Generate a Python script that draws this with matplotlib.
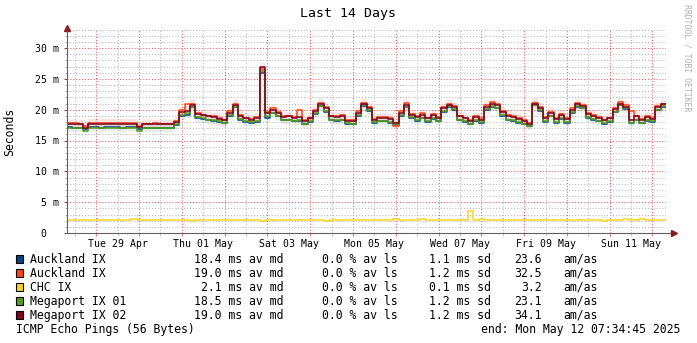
import datetime as dt
import matplotlib
matplotlib.use('Agg')
import matplotlib.pyplot as plt
import matplotlib.dates as mdates
from matplotlib.patches import Rectangle
from matplotlib.ticker import MultipleLocator, FuncFormatter

MONO = 'DejaVu Sans Mono'

end_time = dt.datetime(2025, 5, 12, 7, 34, 45)
start_time = end_time - dt.timedelta(days=14)
STEP_H = 3  # one sample every 3 hours

# medians in ms, one value per 3 h step (112 steps)
auckland_a = [17.2, 17.1, 17.1, 16.8, 17.2, 17.2, 17.1, 17.2, 17.2, 17.2, 17.1, 17.2, 17.2, 16.9, 17.1, 17.1, 17.1, 17.1, 17.1, 17.1,
              17.5, 19.0, 19.2, 20.4, 18.7, 18.5, 18.3, 18.2, 18.0, 17.8,
              19.0, 20.4, 18.4, 18.0, 17.9, 18.0, 26.0, 18.7, 19.4, 18.9,
              18.3, 18.3, 18.1, 18.2, 17.6, 18.0, 19.3, 20.6, 19.7, 18.3,
              18.2, 18.3, 17.7, 17.6, 19.0, 20.6, 19.8, 17.9, 18.1, 18.1,
              17.9, 17.5, 19.0, 20.4, 18.6, 18.2, 18.6, 18.0, 18.5, 18.1,
              19.7, 20.5, 20.0, 18.3, 18.0, 17.6, 18.2, 17.9, 20.0, 20.5,
              20.3, 19.0, 18.3, 18.2, 17.9, 17.6, 17.3, 20.7, 19.8, 18.0,
              18.9, 17.9, 18.5, 17.9, 19.5, 20.5, 20.2, 18.7, 18.4, 18.1,
              17.7, 18.0, 19.6, 20.7, 20.1, 17.8, 18.3, 17.8, 18.2, 18.0,
              19.9, 20.5]
auckland_b = [17.8, 17.8, 17.7, 17.4, 17.8, 17.9, 17.8, 17.8, 17.9, 17.8, 17.8, 17.8, 17.8, 17.4, 17.7, 17.7, 17.8, 17.7, 17.7, 17.7,
              18.2, 19.9, 20.9, 21.0, 19.5, 19.2, 19.0, 18.9, 18.7, 18.4,
              19.8, 21.0, 19.2, 18.7, 18.5, 18.8, 26.6, 19.7, 20.2, 19.6,
              18.9, 19.0, 18.8, 19.9, 18.3, 18.7, 20.0, 21.1, 20.4, 19.0,
              18.9, 19.1, 18.4, 18.3, 19.8, 21.1, 20.4, 18.5, 18.8, 18.8,
              18.6, 17.4, 19.8, 21.1, 19.3, 18.9, 19.4, 18.7, 19.3, 18.8,
              20.4, 21.0, 20.6, 19.0, 18.7, 18.4, 18.9, 18.6, 20.8, 21.2,
              20.9, 19.8, 19.2, 19.0, 18.6, 18.4, 17.8, 21.1, 20.4, 18.8,
              19.7, 18.6, 19.3, 18.6, 20.2, 21.1, 20.8, 19.4, 19.1, 18.8,
              18.4, 18.7, 20.3, 21.2, 20.7, 19.8, 19.0, 18.5, 18.9, 18.6,
              20.6, 21.0]
chc = [2.1, 2.1, 2.1, 2.1, 2.1, 2.1, 2.1, 2.1, 2.1, 2.1, 2.1, 2.1, 2.2, 2.1, 2.1, 2.1, 2.1, 2.1, 2.1, 2.1,
       2.1, 2.1, 2.1, 2.0, 2.1, 2.1, 2.1, 2.1, 2.1, 2.1,
       2.1, 2.1, 2.1, 2.1, 2.1, 2.1, 2.0, 2.1, 2.1, 2.1,
       2.1, 2.1, 2.1, 2.1, 2.1, 2.1, 2.1, 2.1, 2.0, 2.1,
       2.1, 2.1, 2.1, 2.1, 2.1, 2.1, 2.1, 2.1, 2.1, 2.1,
       2.1, 2.2, 2.1, 2.1, 2.1, 2.1, 2.2, 2.1, 2.1, 2.1,
       2.1, 2.1, 2.1, 2.1, 2.1, 3.6, 2.1, 2.2, 2.1, 2.1,
       2.1, 2.1, 2.1, 2.1, 2.1, 2.1, 2.1, 2.1, 2.1, 2.1,
       2.1, 2.1, 2.1, 2.1, 2.1, 2.1, 2.1, 2.1, 2.1, 2.1,
       2.0, 2.1, 2.1, 2.1, 2.2, 2.1, 2.1, 2.2, 2.1, 2.1,
       2.1, 2.1]
megaport_01 = [17.0, 17.0, 17.0, 16.6, 17.1, 17.1, 17.0, 17.1, 17.1, 17.0, 17.0, 17.0, 17.1, 16.6, 17.0, 17.0, 17.0, 17.0, 17.0, 17.1,
               17.6, 19.1, 19.4, 20.5, 18.8, 18.6, 18.4, 18.3, 18.1, 17.9,
               19.1, 20.5, 18.5, 18.1, 18.0, 18.1, 26.3, 18.9, 19.5, 19.0,
               18.4, 18.4, 18.2, 18.3, 17.7, 18.1, 19.4, 20.6, 19.8, 18.4,
               18.3, 18.4, 17.8, 17.7, 19.1, 20.7, 19.9, 18.0, 18.2, 18.2,
               18.0, 17.6, 19.1, 20.5, 18.8, 18.3, 18.7, 18.1, 18.6, 18.2,
               19.8, 20.6, 20.1, 18.4, 18.1, 17.7, 18.3, 18.0, 20.1, 20.6,
               20.3, 19.1, 18.4, 18.3, 18.0, 17.7, 17.4, 20.7, 19.9, 18.1,
               19.0, 18.0, 18.6, 18.0, 19.6, 20.6, 20.3, 18.8, 18.5, 18.2,
               17.8, 18.1, 19.7, 20.7, 20.2, 17.9, 18.4, 17.9, 18.3, 18.1,
               20.0, 20.6]
megaport_02 = [17.6, 17.6, 17.6, 17.1, 17.7, 17.7, 17.7, 17.7, 17.7, 17.7, 17.7, 17.7, 17.7, 17.2, 17.6, 17.6, 17.6, 17.6, 17.6, 17.6,
               18.0, 19.6, 19.8, 20.8, 19.3, 19.1, 18.9, 18.8, 18.5, 18.3,
               19.5, 20.8, 19.0, 18.6, 18.4, 18.6, 27.0, 19.4, 19.9, 19.4,
               18.8, 18.9, 18.7, 18.8, 18.1, 18.6, 19.8, 21.0, 20.2, 18.9,
               18.8, 18.9, 18.2, 18.2, 19.5, 21.0, 20.3, 18.4, 18.7, 18.7,
               18.5, 17.9, 19.5, 20.8, 19.2, 18.8, 19.2, 18.6, 19.1, 18.7,
               20.2, 20.8, 20.4, 18.9, 18.6, 18.2, 18.8, 18.4, 20.5, 20.9,
               20.7, 19.6, 19.0, 18.8, 18.5, 18.2, 17.7, 21.0, 20.3, 18.6,
               19.5, 18.5, 19.1, 18.5, 20.0, 20.9, 20.6, 19.3, 19.0, 18.7,
               18.3, 18.6, 20.1, 21.0, 20.5, 18.3, 18.9, 18.4, 18.8, 18.5,
               20.4, 20.9]

names = ['Auckland IX', 'Auckland IX', 'CHC IX', 'Megaport IX 01', 'Megaport IX 02']
colors = ['#004586', '#ff420e', '#ffd320', '#579d1c', '#7e0021']
series = [auckland_a, auckland_b, chc, megaport_01, megaport_02]
avg_md = ['18.4', '19.0', '2.1', '18.5', '19.0']
avg_ls = ['0.0', '0.0', '0.0', '0.0', '0.0']
sd = ['1.1', '1.2', '0.1', '1.2', '1.2']
am_as = ['23.6', '32.5', '3.2', '23.1', '34.1']

n = len(megaport_02)
times = [start_time + dt.timedelta(hours=STEP_H * i) for i in range(n + 1)]
tnum = mdates.date2num(times)

W, H = 697, 343
fig = plt.figure(figsize=(W / 100, H / 100), dpi=100)
fig.patch.set_facecolor('white')
ax = fig.add_axes([67 / W, 110 / H, 599 / W, 203.5 / H])

# faint smoke first, then median lines on top
for vals, col, s in zip(series, colors, sd):
    v = vals + [vals[-1]]
    spread = float(s) * 0.6
    ax.fill_between(tnum, [x - spread for x in v], [x + spread for x in v],
                    step='post', color=col, alpha=0.06, lw=0)
for vals, col in zip(series, colors):
    ax.step(tnum, vals + [vals[-1]], where='post', color=col, lw=1.1)

ax.set_xlim(tnum[0], tnum[-1])
ax.set_ylim(0, 33)

# grid: red on days / every 5 ms, grey on noons / every 1 ms
ax.xaxis.set_major_locator(mdates.DayLocator())
ax.xaxis.set_minor_locator(mdates.HourLocator(byhour=[12]))
ax.xaxis.set_major_formatter(FuncFormatter(lambda x, p: ''))
def day_label(x, pos):
    d = mdates.num2date(x)
    return d.strftime('%a %d %b') if d.day % 2 == 1 else ''
ax.xaxis.set_minor_formatter(FuncFormatter(day_label))

ax.yaxis.set_major_locator(MultipleLocator(5))
ax.yaxis.set_minor_locator(MultipleLocator(1))
ax.yaxis.set_major_formatter(FuncFormatter(lambda y, p: '0  ' if y == 0 else '%d m' % y))

dots = (0, (1, 2))
ax.grid(which='major', color=(0.95, 0.3, 0.3, 0.45), ls=dots, lw=0.7)
ax.grid(which='minor', color=(0.7, 0.7, 0.7, 0.5), ls=dots, lw=0.7)
ax.set_axisbelow(True)

ax.tick_params(axis='x', which='major', length=2, color='#e08080', pad=2)
ax.tick_params(axis='x', which='minor', length=2, color='#c0c0c0', pad=2,
               labelsize=7.1, labelfontfamily=MONO)
ax.tick_params(axis='y', which='major', length=2.5, color='#606060', pad=3.5,
               labelsize=7.1, labelfontfamily=MONO)
ax.tick_params(axis='y', which='minor', length=1.5, color='#a0a0a0')

for sp in ('top', 'right'):
    ax.spines[sp].set_visible(False)
for sp in ('left', 'bottom'):
    ax.spines[sp].set_color('#606060')
    ax.spines[sp].set_linewidth(0.8)

# axis arrows
ax.plot([1.0, 1.012], [0, 0], transform=ax.transAxes, color='#606060', lw=0.8, clip_on=False)
ax.plot([1.014], [0], transform=ax.transAxes, marker='>', ms=4, color='#8b1a1a', clip_on=False)
ax.plot([0], [1.005], transform=ax.transAxes, marker='^', ms=4, color='#8b1a1a', clip_on=False)

fig.text(348 / W, 1 - 14 / H, 'Last 14 Days', ha='center', va='center', size=9.5, family=MONO)
fig.text(10 / W, 1 - 132 / H, 'Seconds', ha='center', va='center', rotation=90, size=8.3, family=MONO)
fig.text(687 / W, 1 - 58 / H, 'RRDTOOL / TOBI OETIKER', ha='center', va='center', rotation=270,
         size=5.9, family=MONO, color='#b0b0b0')

# legend block
fs = 8.3
row_y = [259.3, 273.3, 287.3, 301.3, 315.3]
for i in range(len(names)):
    y = 1 - row_y[i] / H
    fig.add_artist(Rectangle((15.5 / W, 1 - (row_y[i] + 4) / H), 7 / W, 8 / H,
                             transform=fig.transFigure, facecolor=colors[i], edgecolor='black', lw=0.8))
    fig.text(30 / W, y, names[i], ha='left', va='center', size=fs, family=MONO)
    fig.text(283.5 / W, y, '%s ms av md' % avg_md[i], ha='right', va='center', size=fs, family=MONO)
    fig.text(398 / W, y, '%s %% av ls' % avg_ls[i], ha='right', va='center', size=fs, family=MONO)
    fig.text(491 / W, y, '%s ms sd' % sd[i], ha='right', va='center', size=fs, family=MONO)
    fig.text(542 / W, y, am_as[i], ha='right', va='center', size=fs, family=MONO)
    fig.text(563 / W, y, 'am/as', ha='left', va='center', size=fs, family=MONO)

fig.text(16 / W, 1 - 329.3 / H, 'ICMP Echo Pings (56 Bytes)', ha='left', va='center', size=fs, family=MONO)
fig.text(680 / W, 1 - 329.3 / H, 'end: Mon May 12 07:34:45 2025', ha='right', va='center', size=fs, family=MONO)

fig.savefig('out.png', dpi=100)
